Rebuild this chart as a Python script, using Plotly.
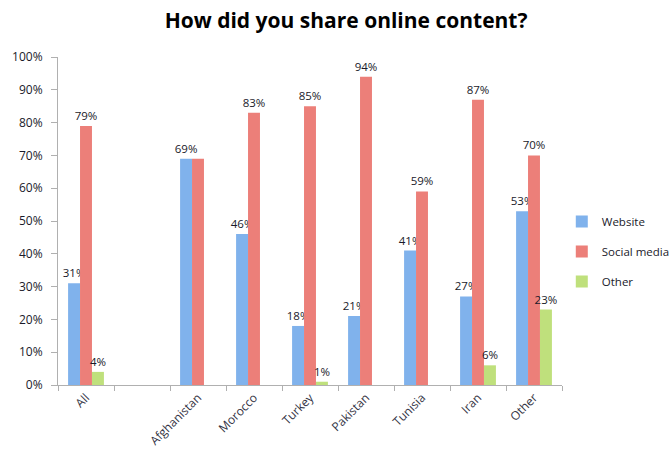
import plotly.graph_objects as go

categories = ["All", " ", "Afghanistan", "Morocco", "Turkey", "Pakistan", "Tunisia", "Iran", "Other"]
website = [31, None, 69, 46, 18, 21, 41, 27, 53]
social_media = [79, None, 69, 83, 85, 94, 59, 87, 70]
other = [4, None, None, None, 1, None, None, 6, 23]
# which value labels are shown on the chart
show_website = [True, False, True, True, True, True, True, True, True]
show_social = [True, False, False, True, True, True, True, True, True]
show_other = [True, False, False, False, True, False, False, True, True]

def labels(vals, show):
    return [f"{v}%" if (v is not None and s) else "" for v, s in zip(vals, show)]

font_family = "Open Sans, Liberation Sans, sans-serif"

fig = go.Figure()
series = [
    ("Website", website, show_website, "#80b2ec"),
    ("Social media", social_media, show_social, "#ec7f79"),
    ("Other", other, show_other, "#bfe07c"),
]
for i, (name, vals, show, color) in enumerate(series):
    fig.add_trace(go.Bar(
        name=name, x=categories, y=vals,
        marker=dict(color=color, line=dict(width=0)),
        text=labels(vals, show), textposition="outside",
        textfont=dict(size=11.5, color="#1a1a2a", family=font_family),
        constraintext="none", cliponaxis=False,
        legendgroup=f"g{i}",
    ))

fig.update_layout(
    width=672, height=455,
    paper_bgcolor="white", plot_bgcolor="white",
    margin=dict(l=58, r=110, t=57, b=70, autoexpand=False),
    barmode="group", bargap=0.36, bargroupgap=0,
    title=dict(text="<b>How did you share online content?</b>", x=0.515, xanchor="center",
               y=0.955, yanchor="middle", xref="container", yref="container",
               font=dict(size=21, color="black", family=font_family)),
    font=dict(family=font_family, size=11, color="#1a1a2a"),
    legend=dict(xref="container", yref="container", x=0.836, xanchor="left",
                y=0.545, yanchor="top", itemwidth=30,
                font=dict(size=11.5, color="#1a1a2a"), tracegroupgap=11,
                bgcolor="rgba(0,0,0,0)"),
    showlegend=True,
)
fig.update_xaxes(
    type="category", showline=True, linecolor="#b0b0b0", linewidth=1,
    ticks="outside", tickson="boundaries", ticklen=5, tickcolor="#b0b0b0",
    tickangle=-45, tickfont=dict(size=12, color="#333344"), showgrid=False,
    automargin=False,
)
fig.update_yaxes(
    range=[0, 100], dtick=10, ticksuffix="%", showline=True, linecolor="#b0b0b0",
    linewidth=1, ticks="outside", ticklen=6, tickcolor="#b0b0b0",
    ticklabelstandoff=6,
    showgrid=False, zeroline=False, tickfont=dict(size=12, color="#1a1a2a"),
    automargin=False,
)

fig.write_html("out.html", config={"displayModeBar": False},
               post_script="document.body.style.margin='0';")
